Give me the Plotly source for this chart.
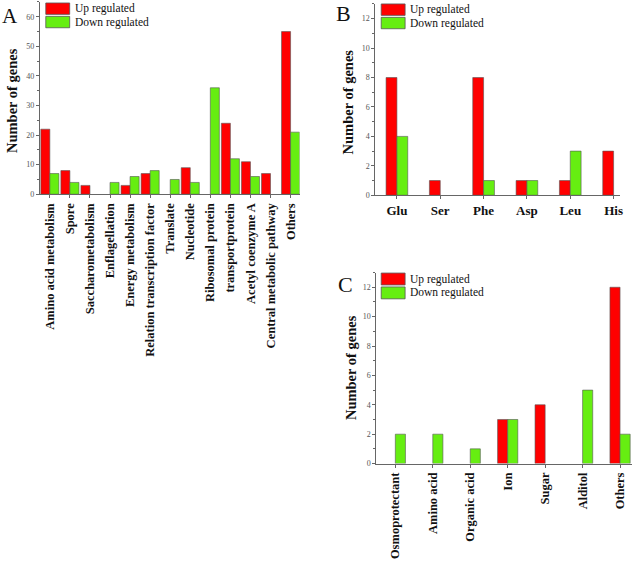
import plotly.graph_objects as go

W, H = 644, 565

# ---------------- data ----------------
cats_a = ["Amino acid metabolism", "Spore", "Saccharometabolism", "Enflagellation",
          "Energy metabolism", "Relation transcription factor", "Translate", "Nucleotide",
          "Ribosomal protein", "transportprotein", "Acetyl coenzyme A",
          "Central metabolic pathway", "Others"]
up_a = [22, 8, 3, 0, 3, 7, 0, 9, 0, 24, 11, 7, 55]
down_a = [7, 4, 0, 4, 6, 8, 5, 4, 36, 12, 6, 0, 21]

cats_b = ["Glu", "Ser", "Phe", "Asp", "Leu", "His"]
up_b = [8, 1, 8, 1, 1, 3]
down_b = [4, 0, 1, 1, 3, 0]

cats_c = ["Osmoprotectant", "Amino acid", "Organic acid", "Ion", "Sugar", "Alditol", "Others"]
up_c = [0, 0, 0, 3, 4, 0, 12]
down_c = [2, 2, 1, 3, 0, 5, 2]

RED = "#FF0000"
GREEN = "#66EE11"
OUT = "#555555"
SERIF = "Liberation Serif"

def px(x):
    return x / W

def py(y):
    return 1 - y / H

fig = go.Figure()

panels = [
    (cats_a, up_a, down_a, "x", "y", 0.45),
    (cats_b, up_b, down_b, "x2", "y2", 0.25),
    (cats_c, up_c, down_c, "x3", "y3", 0.27),
]
for cats, up, down, xa, ya, bw in panels:
    idx = list(range(len(cats)))
    for vals, col, name, off in [(up, RED, "Up regulated", -bw), (down, GREEN, "Down regulated", 0)]:
        lw = [0.6 if v > 0 else 0 for v in vals]
        fig.add_trace(go.Bar(x=idx, y=vals, name=name, xaxis=xa, yaxis=ya,
                             offset=off, width=bw,
                             marker=dict(color=col, line=dict(color=OUT, width=lw)),
                             showlegend=False))

axis_common = dict(showline=True, linecolor="#666", linewidth=1, ticks="outside",
                   tickcolor="#666", ticklen=3, showgrid=False, zeroline=False)
ytick_font = dict(family=SERIF, size=8, color="#555")
xtick_font = dict(family=SERIF, size=12.5, color="#111", weight="bold")

fig.update_layout(
    xaxis=dict(domain=[px(40), px(301)], range=[-0.5, 12.45], anchor="y",
               tickmode="array", tickvals=list(range(len(cats_a))), ticktext=cats_a,
               tickangle=-90, tickfont=xtick_font, **axis_common),
    yaxis=dict(domain=[py(196), py(2)], range=[0, 65], anchor="x", dtick=10,
               tickfont=ytick_font, minor=dict(dtick=5, ticks="outside", ticklen=2, tickcolor="#666"),
               **axis_common),
    xaxis2=dict(domain=[px(377), px(623)], range=[-0.5, 5.15], anchor="y2",
                tickmode="array", tickvals=list(range(len(cats_b))), ticktext=cats_b,
                tickfont=dict(family=SERIF, size=13, color="#111", weight="bold"), **axis_common),
    yaxis2=dict(domain=[py(197), py(4)], range=[0, 13], anchor="x2", dtick=2,
                tickfont=ytick_font, minor=dict(dtick=1, ticks="outside", ticklen=2, tickcolor="#666"),
                **axis_common),
    xaxis3=dict(domain=[px(378), px(635)], range=[-0.51, 6.32], anchor="y3",
                tickmode="array", tickvals=list(range(len(cats_c))), ticktext=cats_c,
                tickangle=-90, tickfont=xtick_font, **axis_common),
    yaxis3=dict(domain=[py(467.7), py(275)], range=[0, 13], anchor="x3", dtick=2,
                tickfont=ytick_font, minor=dict(dtick=1, ticks="outside", ticklen=2, tickcolor="#666"),
                **axis_common),
)

shapes = []
annotations = []

def legend(x0, y_red, y_green, h):
    for y0, col, label in [(y_red, RED, "Up regulated"), (y_green, GREEN, "Down regulated")]:
        shapes.append(dict(type="rect", xref="paper", yref="paper",
                           x0=px(x0), x1=px(x0 + 24), y0=py(y0 + h), y1=py(y0),
                           fillcolor=col, line=dict(color=OUT, width=0.8)))
        annotations.append(dict(xref="paper", yref="paper", x=px(x0 + 28), y=py(y0 + h / 2),
                                text=label, showarrow=False, xanchor="left", yanchor="middle",
                                borderpad=0,
                                font=dict(family=SERIF, size=11.5, color="#111")))

legend(46, 3, 16.5, 11.5)
legend(383, 4, 17.5, 11.5)
legend(383, 275.5, 289.5, 12)

def ytitle(x, y):
    annotations.append(dict(xref="paper", yref="paper", x=px(x), y=py(y), text="Number of genes",
                            textangle=-90, showarrow=False, xanchor="center", yanchor="middle",
                            font=dict(family=SERIF, size=14.5, color="#111", weight="bold")))

ytitle(12, 101)
ytitle(350, 103)
ytitle(352, 371)

def letter(t, x, y, s):
    annotations.append(dict(xref="paper", yref="paper", x=px(x), y=py(y), text=t,
                            showarrow=False, xanchor="center", yanchor="middle",
                            font=dict(family=SERIF, size=s, color="#111")))

letter("A", 10, 16, 21)
letter("B", 345, 14, 22)
letter("C", 347, 287, 22)

fig.update_layout(
    width=W, height=H, margin=dict(l=0, r=0, t=0, b=0),
    paper_bgcolor="white", plot_bgcolor="white",
    barmode="overlay", shapes=shapes, annotations=annotations,
    font=dict(family=SERIF),
)

fig.write_html("out.html")
